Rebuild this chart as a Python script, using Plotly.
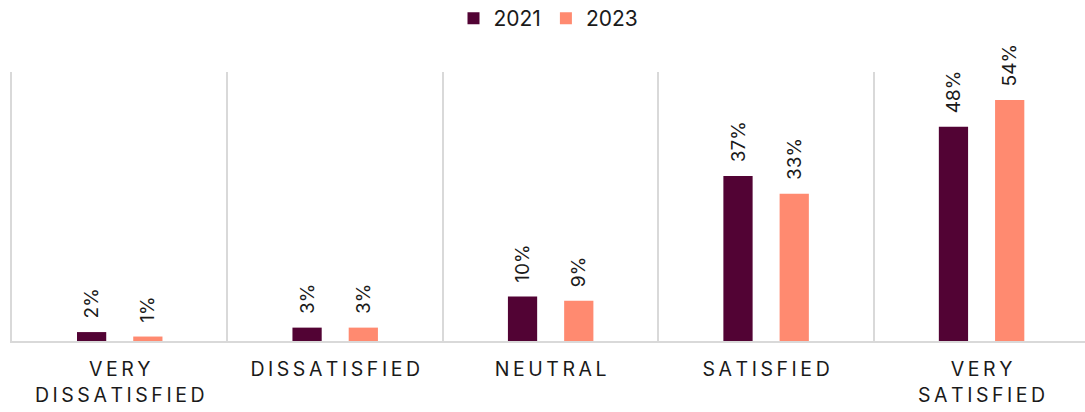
import plotly.graph_objects as go

categories = ["VERY<br>DISSATISFIED", "DISSATISFIED", "NEUTRAL", "SATISFIED", "VERY<br>SATISFIED"]
series_2021 = [2, 3, 10, 37, 48]
series_2023 = [1, 3, 9, 33, 54]
series_names = ["2021", "2023"]
colors = ["#520334", "#FF8A70"]

SP = "\u2009"
def spaced(label):
    return "<br>".join(SP.join(list(part)) for part in label.split("<br>"))

tick_text = [spaced(c) for c in categories]
pad = "\u00a0\u00a0"

fig = go.Figure()
for name, vals, col in zip(series_names, [series_2021, series_2023], colors):
    fig.add_trace(go.Bar(
        x=categories, y=vals, name=name,
        marker=dict(color=col, line=dict(width=0)),
        text=[f"{pad}{v}%" for v in vals],
        textposition="outside", textangle=-90, constraintext="none",
        textfont=dict(size=19, color="#1a1a1a", family="Inter"),
        cliponaxis=False,
    ))

fig.update_layout(
    width=1085, height=412,
    margin=dict(l=12, r=0, t=72, b=71, autoexpand=False),
    plot_bgcolor="white", paper_bgcolor="white",
    barmode="group", bargap=0.478, bargroupgap=0.48,
    font=dict(family="Inter", color="#1a1a1a"),
    legend=dict(orientation="h", x=0.5, xanchor="center", yref="container", y=0.955,
                yanchor="middle", font=dict(size=21), itemwidth=30, traceorder="normal"),
)
fig.update_xaxes(
    tickmode="array", tickvals=categories, ticktext=tick_text,
    range=[-0.5, 4.48],
    tickson="boundaries", showgrid=True, gridcolor="#d9d9d9", gridwidth=2,
    showline=True, linecolor="#d9d9d9", linewidth=2, automargin=False,
    ticks="", ticklabelstandoff=10, tickfont=dict(size=19.5, color="#1a1a1a"),
)
fig.update_yaxes(range=[0, 60.3], showticklabels=False, showgrid=False, zeroline=False,
                 showline=True, linecolor="#d9d9d9", linewidth=2, ticks="",
                 automargin=False)

fig.write_html("out.html", config={"displayModeBar": False},
               post_script="document.body.style.margin='0';document.body.style.overflow='hidden';")
